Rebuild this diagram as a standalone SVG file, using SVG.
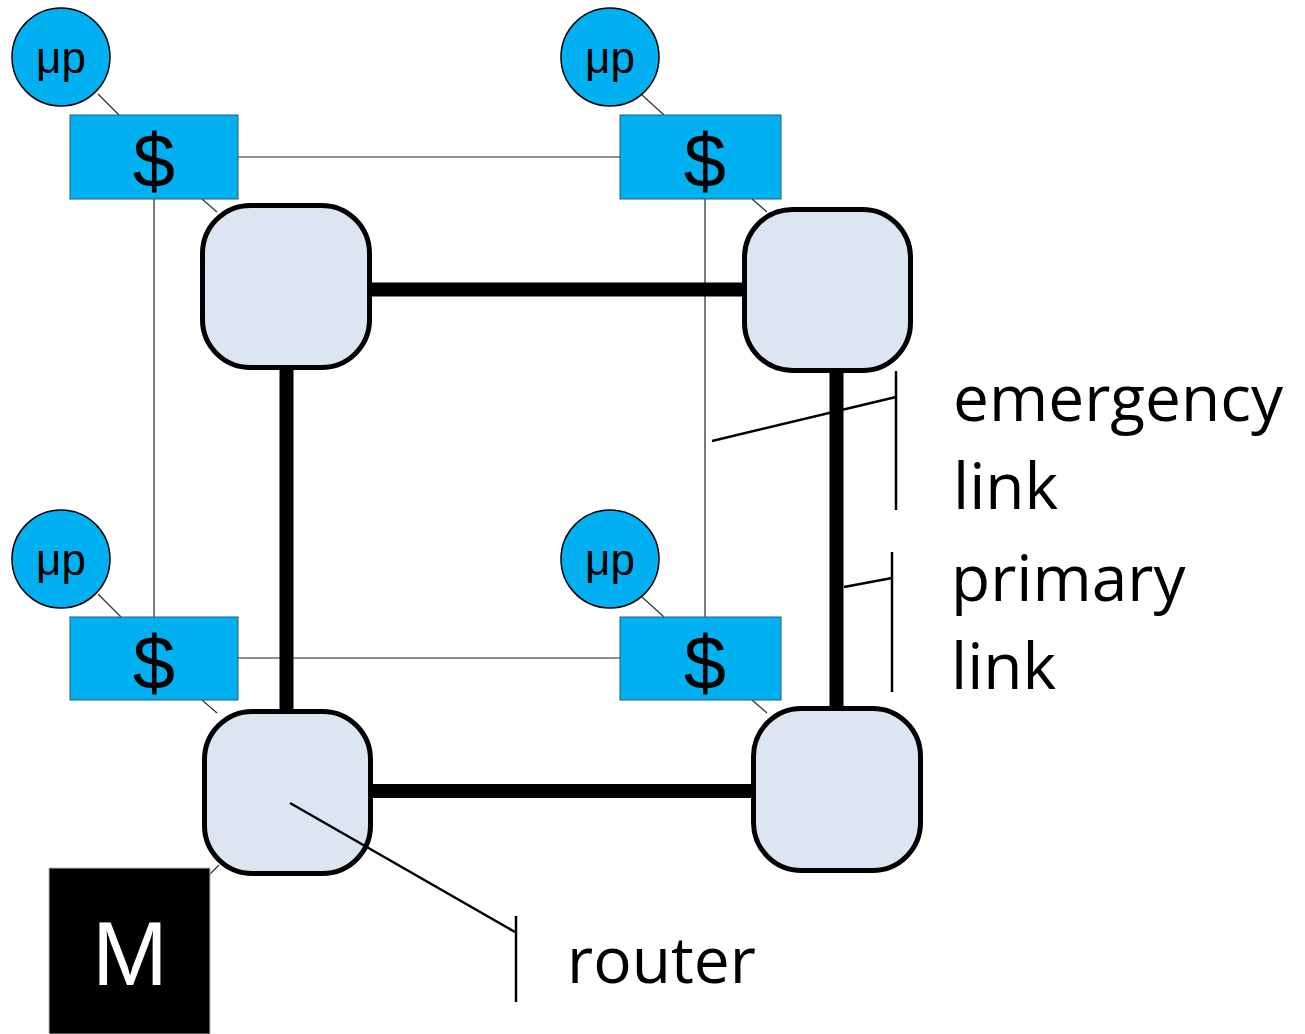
<svg xmlns="http://www.w3.org/2000/svg" width="1305" height="1034" viewBox="0 0 1305 1034">
  <style>
    .thin { stroke: #222; stroke-width: 1.2; fill: none; }
    .tie { stroke: #333; stroke-width: 1.2; fill: none; }
    .primary { stroke: #000; stroke-width: 14; fill: none; }
    .callout { stroke: #000; stroke-width: 2.5; fill: none; }
    .cpu circle { fill: #00B0F0; stroke: #000; stroke-width: 1.5; }
    .cpu text { font-family: "Liberation Sans", Arial, sans-serif; font-size: 44px; fill: #000; text-anchor: middle; }
    .cache rect { fill: #00B0F0; stroke: #2a5a78; stroke-width: 1; }
    .cache text { font-family: "Liberation Sans", Arial, sans-serif; font-size: 76px; fill: #000; text-anchor: middle; }
    .router rect { fill: #DCE6F2; stroke: #000; stroke-width: 5; }
    .label { font-family: "Open Sans", "Liberation Sans", sans-serif; font-size: 64px; fill: #000; }
  </style>

  <!-- emergency links between caches and short ties to processors / routers -->
  <g id="connectors">
    <line class="thin" x1="238" y1="157" x2="620" y2="157"/>
    <line class="thin" x1="238" y1="658" x2="620" y2="658"/>
    <line class="thin" x1="154" y1="199" x2="154" y2="617" stroke="#777"/>
    <line class="thin" x1="705" y1="199" x2="705" y2="617"/>

    <line class="tie" x1="98" y1="94" x2="119" y2="115"/>
    <line class="tie" x1="642" y1="95" x2="664" y2="115"/>
    <line class="tie" x1="98" y1="594" x2="121" y2="617"/>
    <line class="tie" x1="642" y1="597" x2="664" y2="617"/>

    <line class="tie" x1="202" y1="199" x2="217" y2="212"/>
    <line class="tie" x1="752" y1="199" x2="767" y2="212"/>
    <line class="tie" x1="202" y1="700" x2="217" y2="713"/>
    <line class="tie" x1="752" y1="700" x2="767" y2="713"/>
    <line class="tie" x1="210" y1="874" x2="219" y2="865"/>

    <!-- primary mesh links -->
    <line class="primary" x1="370" y1="289.5" x2="745" y2="289.5"/>
    <line class="primary" x1="370" y1="791" x2="754" y2="791"/>
    <line class="primary" x1="286.5" y1="367" x2="286.5" y2="713"/>
    <line class="primary" x1="836.5" y1="370" x2="836.5" y2="710"/>
  </g>

  <!-- processors -->
  <g id="cpu-tl" class="cpu"><circle cx="61" cy="57" r="49"/><text x="61" y="73">μp</text></g>
  <g id="cpu-tr" class="cpu"><circle cx="610" cy="57" r="49"/><text x="610" y="73">μp</text></g>
  <g id="cpu-bl" class="cpu"><circle cx="61" cy="559" r="49"/><text x="61" y="575">μp</text></g>
  <g id="cpu-br" class="cpu"><circle cx="610" cy="559" r="49"/><text x="610" y="575">μp</text></g>

  <!-- caches -->
  <g id="cache-tl" class="cache"><rect x="70" y="115" width="168" height="84"/><text x="154" y="187">$</text></g>
  <g id="cache-tr" class="cache"><rect x="620" y="115" width="161" height="84"/><text x="705" y="187">$</text></g>
  <g id="cache-bl" class="cache"><rect x="70" y="617" width="168" height="83"/><text x="154" y="689">$</text></g>
  <g id="cache-br" class="cache"><rect x="620" y="617" width="161" height="83"/><text x="705" y="689">$</text></g>

  <!-- routers -->
  <g id="router-tl" class="router"><rect x="202.5" y="205.5" width="167" height="162" rx="48"/></g>
  <g id="router-tr" class="router"><rect x="744.5" y="209.5" width="166" height="161" rx="48"/></g>
  <g id="router-bl" class="router"><rect x="204.5" y="711.5" width="166" height="162" rx="48"/></g>
  <g id="router-br" class="router"><rect x="753.5" y="708.5" width="167" height="162" rx="48"/></g>

  <!-- memory controller -->
  <g id="memory">
    <rect x="49" y="868" width="161" height="166" fill="#000" stroke="#bbb" stroke-width="1"/>
    <text x="130" y="985" font-family="Liberation Sans, Arial, sans-serif" font-size="91" fill="#fff" text-anchor="middle">M</text>
  </g>

  <!-- legend callouts -->
  <g id="legend">
    <line class="callout" x1="712" y1="441" x2="896" y2="397"/>
    <line class="callout" x1="896" y1="371" x2="896" y2="510"/>
    <text class="label" x="953" y="421">emergency</text>
    <text class="label" x="953" y="509">link</text>

    <line class="callout" x1="844" y1="587" x2="892" y2="578"/>
    <line class="callout" x1="892" y1="552" x2="892" y2="692"/>
    <text class="label" x="951" y="601">primary</text>
    <text class="label" x="951" y="689">link</text>

    <line class="callout" x1="290" y1="803" x2="515" y2="932"/>
    <line class="callout" x1="516" y1="916" x2="516" y2="1002"/>
    <text class="label" x="567" y="983">router</text>
  </g>
</svg>
